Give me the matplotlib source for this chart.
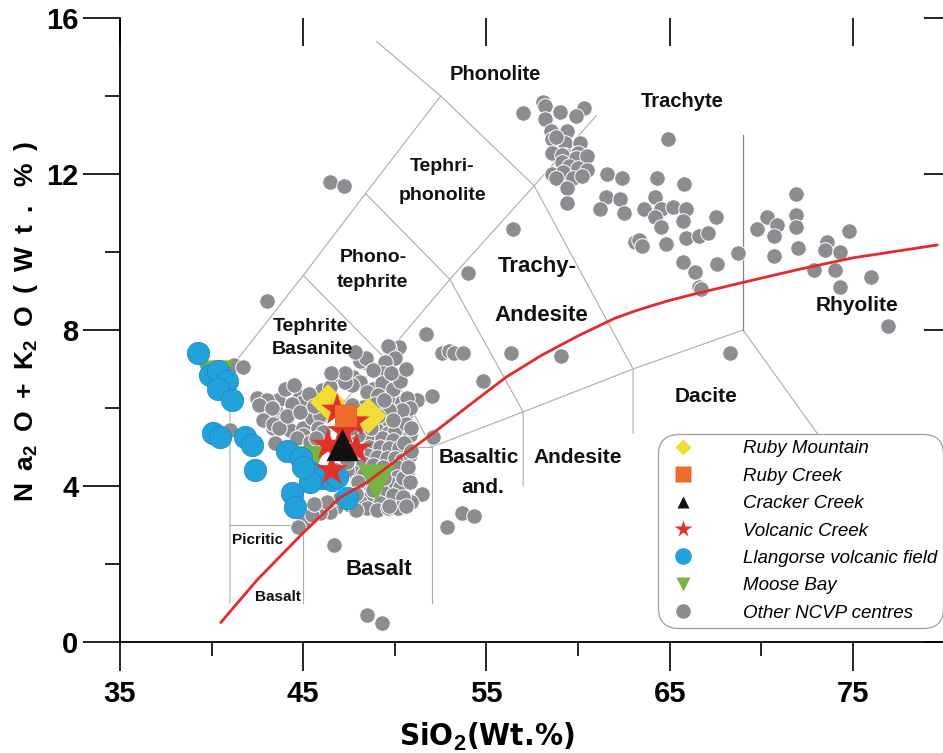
import matplotlib.pyplot as plt
from matplotlib.lines import Line2D
from matplotlib import font_manager
from matplotlib.font_manager import FontProperties

# ---- data (SiO2 wt%, Na2O+K2O wt%) ----
other_x = [57.0, 58.1, 58.2, 59.0, 60.3, 59.9, 58.2, 58.5, 59.4, 58.6, 59.3, 60.1, 58.8, 58.6, 59.3, 60.0,
           59.1, 60.4, 59.9, 60.5, 59.1, 59.5, 60.0, 60.5, 58.6, 59.2, 59.7, 58.8, 60.2, 59.4, 59.4,
           61.6, 62.4, 61.5, 62.3, 61.2, 62.5, 64.3, 65.8, 64.2, 63.6, 64.5, 65.2, 65.9, 64.2, 64.5,
           65.7, 67.5, 63.1, 63.3, 63.5, 64.8, 65.9, 66.6, 67.1, 65.7, 66.4, 67.6, 68.7, 66.6, 66.7, 64.9,
           71.9, 70.3, 69.75, 70.85, 71.9, 71.9, 70.7, 72.0, 70.7, 73.6, 73.5, 74.3, 74.8, 72.9, 74.0,
           76.0, 74.3, 76.9, 68.3,
           56.45, 54.0, 46.45, 47.2, 43.0, 51.7, 52.55, 52.95, 53.2, 53.7, 56.35, 59.05, 54.8, 52.0,
           51.2, 50.6, 50.65, 52.1, 50.65, 51.5, 50.9, 53.65, 54.3, 52.85, 50.3, 46.7, 48.5, 49.3,
           50.2, 49.7, 49.6, 50.0, 49.45, 48.5, 48.1, 48.4, 47.8, 49.35, 48.8, 47.7, 48.1, 46.9, 47.65,
           48.8, 49.3, 48.5, 49.1, 50.0, 50.4, 50.65, 50.8, 50.4, 49.7, 44.8, 43.6, 43.3, 43.55, 43.85,
           43.35, 44.3, 45.0, 45.5, 45.9, 45.8, 46.1, 45.0, 44.65, 45.35, 45.7, 49.2, 49.55, 49.0, 49.6,
           50.0, 48.5, 49.3, 49.9, 48.6, 49.2, 49.7, 50.2, 48.5, 49.0, 49.55, 50.0, 50.4, 48.25, 48.8,
           49.35, 50.1, 47.8, 48.3, 50.1, 49.7, 50.3, 50.45, 49.35, 49.9, 50.45, 48.6, 48.1, 49.2, 47.55,
           48.5, 49.0, 49.6, 50.15, 47.9, 46.8, 46.45, 45.9, 45.35, 45.0, 44.7, 45.5, 43.45, 47.4, 47.4,
           46.8, 48.25, 48.6, 47.65, 46.1, 45.0, 46.0, 46.45, 47.3, 47.3, 41.2, 41.7, 42.5, 43.0, 42.6,
           43.3, 42.8, 43.35, 43.7, 40.0, 41.0,
           48.0, 47.9, 48.2, 47.6, 50.6, 50.8, 50.5, 50.8, 50.7, 50.9, 50.9, 49.9, 50.3, 49.8, 50.6,
           48.9, 49.4, 49.1, 49.9, 48.7, 48.9, 49.4, 48.6, 48.0, 47.9, 48.8, 49.7, 50.8, 50.6, 47.0,
           46.3, 45.6, 44.0, 44.4, 44.1, 44.8, 45.3, 45.6, 46.5, 44.5]
other_y = [13.56, 13.85, 13.75, 13.6, 13.7, 13.5, 13.4, 13.1, 13.1, 12.9, 12.8, 12.8, 12.95, 12.55, 12.5, 12.55,
           12.5, 12.35, 12.4, 12.45, 12.3, 12.2, 12.15, 12.1, 12.0, 12.05, 11.9, 11.9, 11.95, 11.65, 11.25,
           12.0, 11.9, 11.4, 11.35, 11.1, 11.0, 11.9, 11.75, 11.4, 11.1, 11.1, 11.15, 11.1, 10.9, 10.65,
           10.8, 10.9, 10.25, 10.3, 10.15, 10.2, 10.35, 10.4, 10.5, 9.75, 9.5, 9.7, 9.97, 9.1, 9.05, 12.9,
           11.5, 10.9, 10.6, 10.7, 10.95, 10.65, 10.4, 10.1, 9.9, 10.25, 10.05, 10.0, 10.55, 9.55, 9.55,
           9.35, 9.1, 8.1, 7.4,
           10.6, 9.45, 11.8, 11.7, 8.75, 7.9, 7.4, 7.45, 7.4, 7.4, 7.4, 7.33, 6.7, 6.3,
           6.2, 6.2, 5.9, 5.26, 4.33, 3.8, 3.6, 3.3, 3.23, 2.95, 3.43, 2.5, 0.7, 0.5,
           7.57, 7.53, 7.6, 7.28, 7.18, 7.15, 7.2, 7.28, 7.44, 6.9, 6.97, 6.8, 6.67, 6.72, 6.6,
           6.5, 6.63, 6.4, 6.33, 6.2, 6.15, 6.25, 6.0, 5.95, 5.95, 6.3, 6.2, 6.03, 5.87, 5.64,
           5.5, 5.44, 5.5, 5.74, 5.82, 5.5, 5.38, 5.3, 5.23, 5.13, 5.23, 5.64, 5.5, 5.44, 5.36,
           5.44, 5.26, 5.23, 5.18, 5.0, 5.0, 4.97, 4.97, 4.8, 4.74, 4.72, 4.72, 4.67, 4.59, 4.54,
           4.49, 4.49, 4.33, 4.3, 4.23, 4.08, 3.97, 4.2, 3.85, 3.77, 3.72, 3.69, 3.59, 3.56, 3.51,
           3.44, 3.38, 3.44, 3.44, 3.38, 3.46, 3.33, 3.31, 3.21, 3.08, 2.95, 3.26, 5.1, 4.41, 4.62,
           4.41, 6.03, 5.77, 6.08, 6.15, 6.15, 6.46, 6.54, 6.67, 6.9, 7.1, 7.05, 6.26, 6.2, 6.08,
           6.0, 5.7, 5.6, 5.5, 5.45, 5.44,
           5.3, 4.9, 5.6, 5.5, 5.6, 5.3, 5.1, 4.8, 4.5, 4.9, 5.5, 6.5, 6.7, 6.9, 7.0,
           6.1, 6.2, 5.8, 5.7, 5.5, 4.3, 4.2, 4.05, 4.1, 3.8, 3.9, 3.5, 4.1, 3.5, 3.7,
           3.6, 3.55, 6.5, 6.1, 5.8, 5.9, 6.35, 6.05, 6.9, 6.6]

llangorse_x = [39.25, 39.9, 40.35, 40.85, 40.35, 41.1, 40.1, 40.45, 41.8, 42.2, 42.35, 44.1, 44.9,
               45.35, 45.7, 46.1, 46.55, 46.85, 45.35, 44.4, 44.55, 47.4, 45.0]
llangorse_y = [7.4, 6.85, 6.95, 6.7, 6.5, 6.2, 5.36, 5.26, 5.26, 5.05, 4.41, 4.9, 4.72,
               4.35, 4.28, 4.2, 4.15, 4.23, 4.1, 3.82, 3.45, 3.7, 4.5]

moose_x = [40.2, 45.3, 49.0]
moose_y = [6.75, 4.55, 4.08]

ruby_mtn_x = [46.35, 48.55]
ruby_mtn_y = [6.15, 5.8]

ruby_creek_x = [47.35]
ruby_creek_y = [5.8]

volcanic_x = [46.85, 47.75, 46.35, 47.9, 46.55, 47.2]
volcanic_y = [5.95, 5.65, 5.05, 4.95, 4.4, 5.4]

cracker_x = [47.15]
cracker_y = [5.05]

# alkaline / subalkaline divide
divide_x = [40.5, 42.5, 45.0, 47.0, 48.5, 50.3, 52.1, 54.0, 56.1, 58.0, 60.0, 62.0, 63.0, 64.0, 65.0,
            66.5, 69.0, 72.0, 75.0, 79.6]
divide_y = [0.5, 1.6, 2.8, 3.7, 4.1, 4.74, 5.36, 6.05, 6.8, 7.35, 7.85, 8.3, 8.47, 8.62, 8.76,
            8.94, 9.22, 9.55, 9.85, 10.18]

# TAS field boundaries
tas_lines = [
    ([41, 41, 45, 48.4, 52.5], [1, 7, 9.4, 11.5, 14]),
    ([49, 52.5, 57.6, 63, 63], [15.4, 14, 11.7, 7, 5.35]),
    ([45, 45, 52, 52], [1, 5, 5, 1]),
    ([41, 45], [3, 3]),
    ([45, 49.4, 52], [5, 7.3, 5]),
    ([45, 49.4, 53, 57, 57], [9.4, 7.3, 9.3, 5.9, 4.0]),
    ([48.4, 53, 57.6, 61], [11.5, 9.3, 11.7, 13.5]),
    ([52, 57, 63, 69, 74.5], [5, 5.9, 7, 8, 4.4]),
]
trachyte_x = [69, 69]
trachyte_y = [8, 13]

fields = [
    ('Phonolite', 55.5, 14.54, 14.5), ('Trachyte', 65.7, 13.85, 14.5),
    ('Tephri-', 52.6, 12.18, 14), ('phonolite', 52.6, 11.46, 14),
    ('Phono-', 48.8, 9.87, 14), ('tephrite', 48.8, 9.23, 14),
    ('Trachy-', 57.75, 9.62, 16), ('Andesite', 58.0, 8.38, 16),
    ('Tephrite', 45.4, 8.08, 14), ('Basanite', 45.5, 7.51, 14),
    ('Rhyolite', 75.2, 8.62, 15), ('Dacite', 67.0, 6.3, 15),
    ('Basaltic', 54.6, 4.74, 15), ('and.', 54.8, 3.97, 15),
    ('Andesite', 60.0, 4.74, 15), ('Basalt', 49.1, 1.87, 16),
    ('Picritic', 42.5, 2.62, 11), ('Basalt', 43.6, 1.15, 11),
]

plt.rcParams['font.family'] = ['Liberation Sans', 'DejaVu Sans']
plt.rcParams['mathtext.fontset'] = 'custom'
plt.rcParams['mathtext.rm'] = 'Liberation Sans:bold'
plt.rcParams['mathtext.bf'] = 'Liberation Sans:bold'

# a bold narrow face for the x axis title, if one is installed
narrow_path = None
for f in font_manager.fontManager.ttflist:
    w = f.weight if isinstance(f.weight, int) else (700 if 'bold' in str(f.weight) else 400)
    st = str(f.stretch)
    if w >= 600 and f.style == 'normal' and ('Narrow' in f.name or 'Condensed' in f.name or 'condensed' in st):
        if narrow_path is None or 'Liberation' in f.name:
            narrow_path = f.fname
if narrow_path:
    xlab_fp = FontProperties(fname=narrow_path, size=22.5)
else:
    xlab_fp = FontProperties(family='Liberation Sans', weight='bold', size=22)

fig = plt.figure(figsize=(9.43, 7.53), dpi=100)
ax = fig.add_axes([120 / 943, 1 - 642 / 753, 824.6 / 943, 624 / 753])

line_col = '#b3aaa2'
for xs, ys in tas_lines:
    ax.plot(xs, ys, color=line_col, lw=0.8, zorder=1)
ax.plot(trachyte_x, trachyte_y, color='#858585', lw=0.9, zorder=1)

ax.scatter(other_x, other_y, s=125, c='#8b8d91', edgecolors='white', linewidths=0.7, zorder=3)
ax.scatter(moose_x, moose_y, s=700, marker='v', c='#78b443', edgecolors='none', zorder=4)
ax.scatter(llangorse_x, llangorse_y, s=260, c='#22a2dc', edgecolors='#1b86bd', linewidths=0.5, zorder=5)
ax.scatter(ruby_mtn_x, ruby_mtn_y, s=340, marker='D', c='#f3dc36', edgecolors='none', zorder=6)
ax.scatter(volcanic_x, volcanic_y, s=600, marker='*', c='#e5302a', edgecolors='none', zorder=7)
ax.scatter(ruby_creek_x, ruby_creek_y, s=250, marker='s', c='#ee6b2b', edgecolors='none', zorder=8)
ax.scatter(cracker_x, cracker_y, s=540, marker='^', c='#111111', edgecolors='none', zorder=9)

ax.plot(divide_x, divide_y, color='#e42a2a', lw=2.0, zorder=10, solid_capstyle='round')

for txt, x, y, fs in fields:
    ax.text(x, y, txt, fontsize=fs, fontweight='bold', color='#111111', ha='center', va='center', zorder=11)

ax.set_xlim(35, 80)
ax.set_ylim(0, 16)
ax.set_xticks([35, 45, 55, 65, 75])
ax.set_xticks([40, 50, 60, 70], minor=True)
ax.set_yticks([0, 4, 8, 12, 16])
ax.set_yticks([2, 6, 10, 14], minor=True)
for side in ['top', 'right']:
    ax.spines[side].set_visible(False)
for side in ['left', 'bottom']:
    ax.spines[side].set_linewidth(1.3)
ax.tick_params(axis='y', which='major', length=27, width=1.2, pad=3, labelsize=21)
ax.tick_params(axis='y', which='minor', length=11, width=1.2)
ax.tick_params(axis='x', which='major', length=21, width=1.2, pad=6, labelsize=21)
ax.tick_params(axis='x', which='minor', length=10, width=1.2)
for lab in ax.get_yticklabels() + ax.get_xticklabels():
    lab.set_fontweight('bold')

top = ax.secondary_xaxis('top')
top.set_xticks([35, 45, 55, 65, 75])
top.tick_params(direction='in', length=20, width=1.2, labeltop=False)
top.spines['top'].set_visible(False)
right = ax.secondary_yaxis('right')
right.set_yticks([0, 4, 8, 12, 16])
right.tick_params(direction='in', length=15, width=1.2, labelright=False)
right.spines['right'].set_visible(False)

ax.set_xlabel('SiO$_2$(Wt.%)', fontproperties=xlab_fp)
ax.xaxis.set_label_coords(0.445, -0.127)
ax.set_ylabel(r'$\mathbf{N\:\;a_2\:\;O\:\;{+}\:\;K_2\:\;O\:\;(\:\;W\:\;t\:\;.\:\;\%\:\;)}$', fontsize=19)
ax.yaxis.set_label_coords(-0.097, 0.513)

handles = [
    Line2D([], [], marker='D', ls='', color='#f3dc36', ms=7.8, mec='none'),
    Line2D([], [], marker='s', ls='', color='#ee6b2b', ms=11, mec='none'),
    Line2D([], [], marker='^', ls='', color='#111111', ms=9, mec='none'),
    Line2D([], [], marker='*', ls='', color='#e5302a', ms=13, mec='none'),
    Line2D([], [], marker='o', ls='', color='#22a2dc', ms=12, mec='none'),
    Line2D([], [], marker='v', ls='', color='#78b443', ms=10, mec='none'),
    Line2D([], [], marker='o', ls='', color='#8b8d91', ms=10.5, mec='none'),
]
labels = ['Ruby Mountain', 'Ruby Creek', 'Cracker Creek', 'Volcanic Creek',
          'Llangorse volcanic field', 'Moose Bay', 'Other NCVP centres']
leg = ax.legend(handles, labels, loc='upper left', bbox_to_anchor=(0.6524, 0.334),
                borderaxespad=0, frameon=True, fancybox=True, framealpha=1,
                prop=dict(family='Liberation Sans', style='italic', size=13.5),
                handlelength=1.96, handletextpad=2.2, borderpad=0.35, labelspacing=0.55,
                edgecolor='#a59c94', facecolor='white')
leg.get_frame().set_boxstyle('round', pad=0, rounding_size=1.1)
leg.get_frame().set_linewidth(0.9)
leg.set_zorder(20)

fig.savefig('out.png', dpi=100)
